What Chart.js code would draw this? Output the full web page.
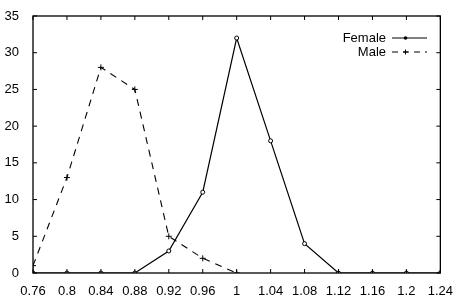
<!DOCTYPE html>
<html>
<head>
<meta charset="utf-8">
<script src="https://cdn.jsdelivr.net/npm/chart.js@4/dist/chart.umd.min.js"></script>
<style>
  html, body { margin: 0; padding: 0; background: #fff; }
  #wrap { width: 456px; height: 298px; }
</style>
</head>
<body>
<div id="wrap"><canvas id="grafico"></canvas></div>
<script>
// datos
const xValores = [0.76, 0.8, 0.84, 0.88, 0.92, 0.96, 1.0, 1.04, 1.08, 1.12, 1.16, 1.2, 1.24];
const female = [0, 0, 0, 0, 3, 11, 32, 18, 4, 0, 0, 0, 0];
const male = [1, 13, 28, 25, 5, 2, 0, null, null, null, null, null, null];
const xTicks = ['0.76', '0.8', '0.84', '0.88', '0.92', '0.96', '1', '1.04', '1.08', '1.12', '1.16', '1.2', '1.24'];
const yTicks = [0, 5, 10, 15, 20, 25, 30, 35];

const fuente = '"Liberation Sans", Arial, sans-serif';

function puntos(serie) {
  return xValores.map((x, i) => ({ x: x, y: serie[i] })).filter(p => p.y !== null);
}

// marco, marcas hacia dentro y leyenda estilo gnuplot
const marcoPlugin = {
  id: 'marco',
  afterDraw(chart) {
    const c = chart.ctx;
    const a = chart.chartArea;
    const sx = chart.scales.x, sy = chart.scales.y;
    c.save();
    c.strokeStyle = '#000';
    c.lineWidth = 1.3;
    c.setLineDash([]);
    c.strokeRect(a.left, a.top, a.right - a.left, a.bottom - a.top);
    c.lineWidth = 1;
    c.beginPath();
    xValores.forEach(v => {
      const px = sx.getPixelForValue(v);
      c.moveTo(px, a.bottom); c.lineTo(px, a.bottom - 4);
      c.moveTo(px, a.top); c.lineTo(px, a.top + 4);
    });
    yTicks.forEach(v => {
      const py = sy.getPixelForValue(v);
      c.moveTo(a.left, py); c.lineTo(a.left + 4, py);
      c.moveTo(a.right, py); c.lineTo(a.right - 4, py);
    });
    c.stroke();

    // leyenda
    c.font = '13px ' + fuente;
    c.fillStyle = '#000';
    c.textAlign = 'right';
    c.textBaseline = 'middle';
    const xTexto = 386, xIni = 392, xFin = 427;
    const y1 = 38, y2 = 52;
    c.fillText('Female', xTexto, y1);
    c.fillText('Male', xTexto, y2);
    c.beginPath();
    c.moveTo(xIni, y1); c.lineTo(xFin, y1);
    c.stroke();
    c.beginPath();
    c.arc((xIni + xFin) / 2 - 4, y1, 1.8, 0, Math.PI * 2);
    c.fill();
    c.setLineDash([6, 5]);
    c.beginPath();
    c.moveTo(xIni, y2); c.lineTo(xFin, y2);
    c.stroke();
    c.setLineDash([]);
    const cx = (xIni + xFin) / 2 - 4;
    c.beginPath();
    c.moveTo(cx - 2.5, y2); c.lineTo(cx + 2.5, y2);
    c.moveTo(cx, y2 - 2.5); c.lineTo(cx, y2 + 2.5);
    c.stroke();
    c.restore();
  }
};

const config = {
  type: 'line',
  data: {
    datasets: [
      {
        label: 'Female',
        data: puntos(female),
        borderColor: '#000',
        backgroundColor: '#000',
        borderWidth: 1.2,
        pointStyle: 'circle',
        pointRadius: 2,
        pointBorderWidth: 1,
        pointBackgroundColor: '#fff',
        pointBorderColor: '#000',
        tension: 0
      },
      {
        label: 'Male',
        data: puntos(male),
        borderColor: '#000',
        backgroundColor: '#000',
        borderWidth: 1.1,
        borderDash: [7, 6],
        pointStyle: 'cross',
        pointRadius: 3,
        pointBorderWidth: 1,
        tension: 0
      }
    ]
  },
  options: {
    responsive: false,
    animation: false,
    layout: { padding: { top: 16, right: 15, left: 0, bottom: 0 } },
    plugins: {
      legend: { display: false },
      tooltip: { enabled: false }
    },
    scales: {
      x: {
        type: 'linear',
        min: 0.76,
        max: 1.24,
        afterBuildTicks: s => { s.ticks = xValores.map(v => ({ value: v })); },
        afterFit: s => { s.height = 25; },
        grid: { display: false },
        border: { display: false },
        ticks: {
          color: '#000',
          font: { family: fuente, size: 13 },
          padding: 3,
          maxRotation: 0,
          autoSkip: false,
          callback: (v, i) => xTicks[i]
        }
      },
      y: {
        min: 0,
        max: 35,
        afterBuildTicks: s => { s.ticks = yTicks.map(v => ({ value: v })); },
        afterFit: s => { s.width = 33; },
        grid: { display: false },
        border: { display: false },
        ticks: {
          color: '#000',
          font: { family: fuente, size: 13 },
          padding: 6
        }
      }
    }
  },
  plugins: [marcoPlugin]
};

const canvas = document.getElementById('grafico');
canvas.width = 456;
canvas.height = 298;
new Chart(canvas, config);
</script>
</body>
</html>
